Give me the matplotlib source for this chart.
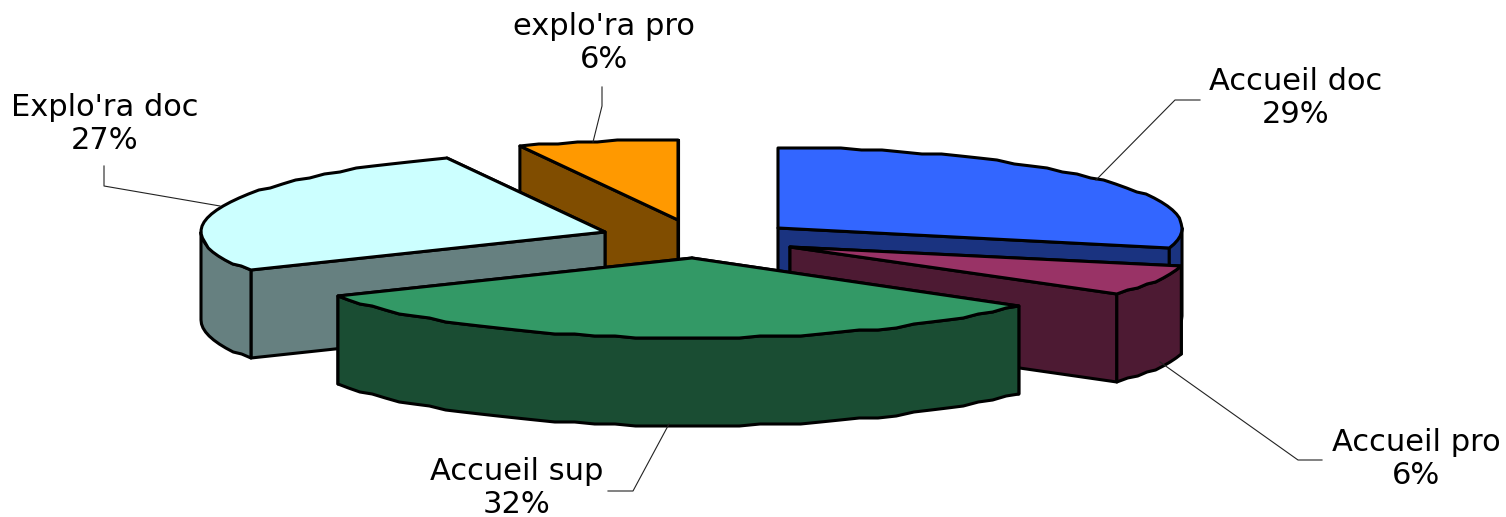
import numpy as np
import matplotlib
matplotlib.use('Agg')
import matplotlib.pyplot as plt
from matplotlib.patches import Polygon

labels = ["Accueil doc", "Accueil pro", "Accueil sup", "Explo'ra doc", "explo'ra pro"]
values = [29.0, 6.0, 32.0, 26.6, 6.4]

top_colors = ['#3366FF', '#993366', '#339966', '#CCFFFF', '#FF9900']
side_colors = ['#1A3380', '#4D1A33', '#1A4D33', '#668080', '#804D00']

# pixel position of the tip of every exploded slice
tips_x = [778, 790, 692, 605, 678]
tips_y = [228, 247, 258, 232, 220]

# label centre, then the leader line from the pie out to the label
label_x = [1296, 1416, 517, 105, 604]
label_y = [98, 459, 488, 124, 43]
leaders = [
    [(1096, 180), (1175, 100), (1200, 100)],
    [(1160, 362), (1298, 460), (1322, 460)],
    [(669, 424), (633, 491), (608, 491)],
    [(220, 206), (104, 186), (104, 166)],
    [(593, 142), (602, 106), (602, 87)],
]

RX = 404
RY = 80
DEPTH = 88
LW = 2.2
GRID = 2.0
draw_order = [4, 0, 3, 1, 2]


def arc(cx, cy, a1, a2):
    # angles in degrees, clockwise from the top of the pie
    # y snapped to a small grid, the original outline is a bit stepped too
    n = max(int(abs(a2 - a1) / 3) + 2, 2)
    a = np.radians(np.linspace(a1, a2, n))
    x = cx + RX * np.sin(a)
    y = cy - RY * np.cos(a)
    return np.column_stack((x, np.round(y / GRID) * GRID))


def add_poly(ax, pts, color):
    ax.add_patch(Polygon(pts, closed=True, facecolor=color, edgecolor='black',
                         linewidth=LW, joinstyle='round'))


def draw_slice(ax, cx, cy, a1, a2, top, side):
    drop = np.array([0, DEPTH])
    tip = np.array([cx, cy])

    # cut faces first, rear one before front one
    edges = sorted([arc(cx, cy, a, a + 1)[0] for a in (a1, a2)], key=lambda p: p[1])
    for edge in edges:
        add_poly(ax, [tip, edge, edge + drop, tip + drop], side)

    w1 = max(a1, 90)
    w2 = min(a2, 270)
    if w2 > w1:
        wall = arc(cx, cy, w1, w2)
        add_poly(ax, np.vstack((wall, (wall + drop)[::-1])), side)

    add_poly(ax, np.vstack((tip, arc(cx, cy, a1, a2))), top)


def main():
    fig = plt.figure(figsize=(15.06, 5.17), dpi=100)
    ax = fig.add_axes([0, 0, 1, 1])
    ax.set_xlim(0, 1506)
    ax.set_ylim(517, 0)
    ax.axis('off')

    ends = np.cumsum(values) / np.sum(values) * 360
    starts = np.concatenate(([0], ends[:-1]))

    for i in draw_order:
        draw_slice(ax, tips_x[i], tips_y[i], starts[i], ends[i], top_colors[i], side_colors[i])

    for line in leaders:
        xs, ys = zip(*line)
        ax.plot(xs, ys, color='#222222', linewidth=0.8, zorder=1)

    for i in range(len(labels)):
        ax.text(label_x[i], label_y[i], '%s\n%d%%' % (labels[i], round(values[i])),
                ha='center', va='center', family='DejaVu Sans', fontsize=22,
                linespacing=1.2, color='black')

    fig.savefig('out.png', dpi=100)


if __name__ == '__main__':
    main()
